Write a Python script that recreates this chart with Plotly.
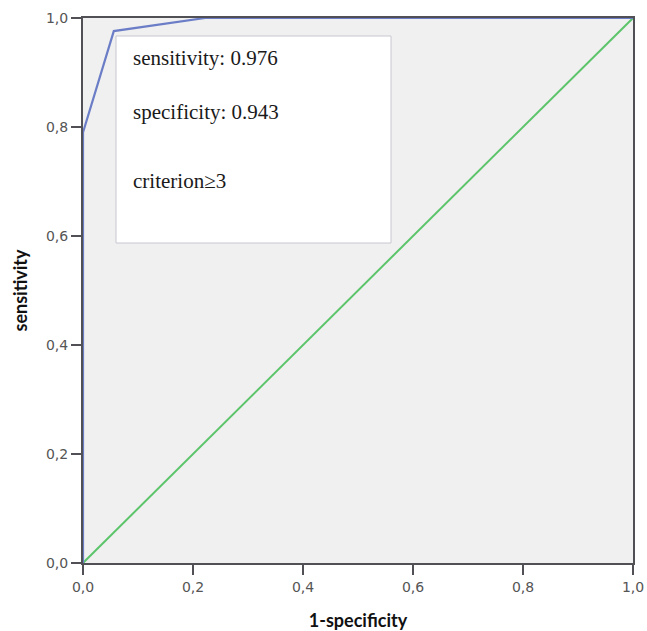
import plotly.graph_objects as go

roc_x = [0.0, 0.0, 0.056, 0.222, 1.0]
roc_y = [0.0, 0.79, 0.976, 1.0, 1.0]
ref_x = [0.0, 1.0]
ref_y = [0.0, 1.0]
tick_vals = [0.0, 0.2, 0.4, 0.6, 0.8, 1.0]
tick_text = ["0,0", "0,2", "0,4", "0,6", "0,8", "1,0"]
box_lines = ["sensitivity: 0.976", "specificity: 0.943", "criterion≥3"]

fig = go.Figure()
fig.add_trace(go.Scatter(x=ref_x, y=ref_y, mode="lines", cliponaxis=False,
                         line=dict(color="#5cc46a", width=2), hoverinfo="skip"))
fig.add_trace(go.Scatter(x=roc_x, y=roc_y, mode="lines", cliponaxis=False,
                         line=dict(color="#6b7dc6", width=2.2), hoverinfo="skip"))

X0, X1 = 83, 633
Y0, Y1 = 18, 563
W, H = 647, 631

def px(x):
    return (x - X0) / (X1 - X0)

def py(y):
    return (Y1 - y) / (Y1 - Y0)

fig.add_shape(type="rect", xref="paper", yref="paper",
              x0=px(116), x1=px(391), y0=py(243), y1=py(36),
              fillcolor="white", line=dict(color="#c8c8d0", width=1), layer="above")
for txt, ycen in zip(box_lines, [58, 112, 181]):
    fig.add_annotation(xref="paper", yref="paper", x=px(131), y=py(ycen),
                       text=txt, showarrow=False, xanchor="left", yanchor="middle",
                       font=dict(family="Liberation Serif", size=21, color="#1a1a1a"))

axis_common = dict(range=[0, 1], tickvals=tick_vals, ticktext=tick_text,
                   showgrid=False, zeroline=False, showline=True, linecolor="#505055",
                   linewidth=2, mirror=True, ticks="outside", ticklen=10, tickwidth=2,
                   tickcolor="#505055", automargin=False,
                   tickfont=dict(family="DejaVu Sans", size=14, color="#555555"))

fig.update_xaxes(**axis_common,
                 title=dict(text="<b>1-specificity</b>", standoff=22,
                            font=dict(family="Lato", size=18, color="#111111")))
fig.update_yaxes(**axis_common,
                 title=dict(text="<b>sensitivity</b>", standoff=14,
                            font=dict(family="Lato", size=18, color="#111111")))

fig.update_layout(width=W, height=H, showlegend=False,
                  margin=dict(l=X0, r=W - X1, t=Y0, b=H - Y1),
                  plot_bgcolor="#f0f0f0", paper_bgcolor="white")

fig.write_html("out.html", config={"displayModeBar": False},
               post_script="document.body.style.margin='0';document.body.style.overflow='hidden';")
